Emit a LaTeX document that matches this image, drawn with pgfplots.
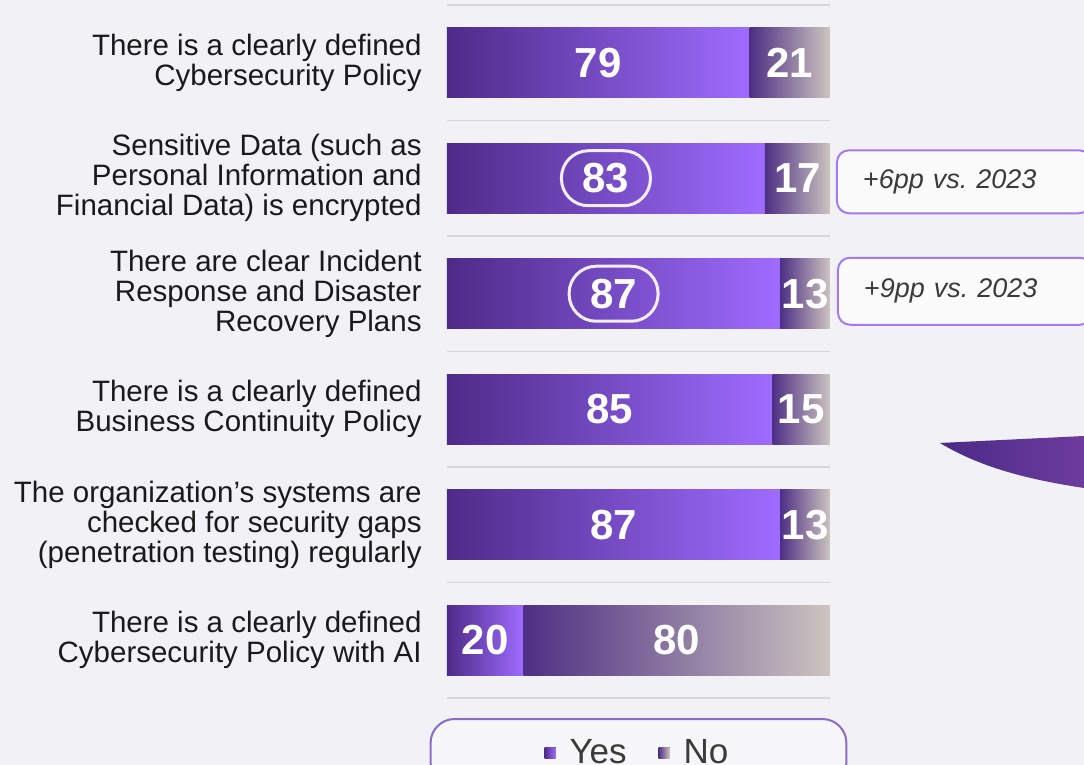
\documentclass[border=0pt]{standalone}
\usepackage{pgfplots}
\pgfplotsset{compat=1.18}
\usepackage{fontspec}
\setmainfont{Liberation Sans}
\definecolor{bg}{HTML}{F2F2F6}
\definecolor{yesL}{HTML}{4E2B88}
\definecolor{yesR}{HTML}{9E6CFF}
\definecolor{noL}{HTML}{4E2F84}
\definecolor{noM}{HTML}{968AA4}
\definecolor{noR}{HTML}{CCC4BF}
\definecolor{gridc}{HTML}{D9D6D9}
\definecolor{callout}{HTML}{A47AF0}
\definecolor{legbox}{HTML}{8A6CC8}
\definecolor{txt}{HTML}{1A1A1A}
\definecolor{ctxt}{HTML}{3A3A3A}
\definecolor{ovalc}{HTML}{F2EEF9}
\definecolor{swA}{HTML}{4A2A85}
\definecolor{swB}{HTML}{6E3C9E}
\pgfplotsset{common/.style={
  at={(223.5pt,33.5pt)}, anchor=south west,
  scale only axis, width=191.5pt, height=346.5pt,
  xmin=0, xmax=100, ymin=-0.5, ymax=5.5, y dir=reverse,
  clip=false},
  yesbar/.style={xbar, bar width=35pt, bar shift=0pt, draw=none, left color=yesL, right color=yesR, forget plot},
  nobar/.style={xbar, bar width=35pt, bar shift=0pt, draw=none, left color=noL, middle color=noM, right color=noR, forget plot}}
\begin{document}
\frenchspacing
\begin{tikzpicture}[x=1pt,y=1pt]
\path[use as bounding box] (0,0) rectangle (542,382.5);
\clip (0,0) rectangle (542,382.5);
\fill[bg] (0,0) rectangle (542,382.5);
% decorative swoosh
\shade[left color=swA, right color=swB] (470,161) -- (542,164.5) -- (542,138.5) .. controls (505,144) and (485,152) .. (470,161) -- cycle;
% Yes bars (from the left), labels, grid, legend
\begin{axis}[common,
  xtick=\empty, ytick={0,...,5},
  yticklabels={
    {There is a clearly defined\\Cybersecurity Policy},
    {Sensitive Data (such as\\Personal Information and\\Financial Data) is encrypted},
    {There are clear Incident\\Response and Disaster\\Recovery Plans},
    {There is a clearly defined\\Business Continuity Policy},
    {The organization's systems are\\checked for security gaps\\(penetration testing) regularly},
    {There is a clearly defined\\Cybersecurity Policy with AI}},
  yticklabel style={align=right, font=\fontsize{14.75}{15}\selectfont, text=txt, inner sep=0pt, xshift=-12.5pt},
  minor ytick={-0.5,0.5,...,5.5}, yminorgrids, minor grid style={gridc, line width=0.8pt},
  axis line style={draw=none}, major tick length=0pt, minor tick length=0pt,
  legend columns=2,
  legend cell align=left,
  legend style={at={(0.5,0)}, anchor=north, yshift=-10pt, draw=legbox, line width=1pt, rounded corners=12pt, fill=white!40!bg,
    font=\fontsize{17.5}{17.5}\selectfont, text=ctxt, inner xsep=57pt, inner ysep=8pt,
    /tikz/every even column/.append style={column sep=14pt}},
  legend image code/.code={\fill[#1,draw=none,sharp corners] (-5.5pt,-2.75pt) rectangle (0pt,2.75pt);},
]
\addplot[yesbar] coordinates {(79,0)};
\addplot[yesbar] coordinates {(83,1)};
\addplot[yesbar] coordinates {(87,2)};
\addplot[yesbar] coordinates {(85,3)};
\addplot[yesbar] coordinates {(87,4)};
\addplot[yesbar] coordinates {(20,5)};
\addlegendimage{left color=yesL, right color=yesR}
\addlegendentry{\hspace{5pt}Yes}
\addlegendimage{left color=noL, middle color=noM, right color=noR}
\addlegendentry{\hspace{5pt}No}
\node[draw=callout, line width=1pt, rounded corners=6pt, fill=white!70!bg, anchor=west, text width=101pt, inner xsep=13pt,
  minimum height=31.5pt, align=left, font=\fontsize{13.5}{13.5}\selectfont\itshape, text=ctxt, xshift=3pt, yshift=-1.75pt]
  at (axis cs:100,1) {+6pp vs. 2023};
\node[draw=callout, line width=1pt, rounded corners=6pt, fill=white!70!bg, anchor=west, text width=101pt, inner xsep=13pt,
  minimum height=33.5pt, align=left, font=\fontsize{13.5}{13.5}\selectfont\itshape, text=ctxt, xshift=3.5pt, yshift=1.25pt]
  at (axis cs:100,2) {+9pp vs. 2023};
\end{axis}
% No bars, measured from the right end (100 %)
\begin{axis}[common, hide axis, x dir=reverse]
\addplot[nobar] coordinates {(21,0)};
\addplot[nobar] coordinates {(17,1)};
\addplot[nobar] coordinates {(13,2)};
\addplot[nobar] coordinates {(15,3)};
\addplot[nobar] coordinates {(13,4)};
\addplot[nobar] coordinates {(80,5)};
\end{axis}
% value labels at the centre of each segment
\begin{axis}[common, hide axis,
  nodes near coords, point meta=explicit symbolic,
  every node near coord/.append style={anchor=center, font=\fontsize{21}{21}\selectfont\bfseries, text=white}]
\addplot[draw=none, mark=none] coordinates {
  (39.5,0) [79] (89.5,0) [21]
  (91.5,1) [17]
  (93.5,2) [13]
  (42.5,3) [85] (92.5,3) [15]
  (43.5,4) [87] (93.5,4) [13]
  (10,5) [20] (60,5) [80]};
\addplot[draw=none, mark=none, every node near coord/.append style={draw=ovalc, line width=1.5pt, rounded corners=13.5pt, minimum width=44.5pt, minimum height=27.5pt}]
  coordinates {(41.5,1) [83] (43.5,2) [87]};
\end{axis}
\end{tikzpicture}
\end{document}
